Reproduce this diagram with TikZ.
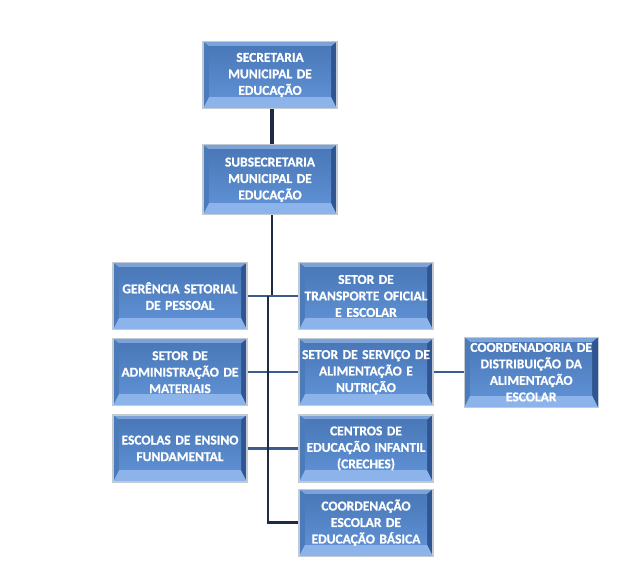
\documentclass[tikz,border=0pt]{standalone}
\usepackage{fontspec}
\setmainfont{Carlito}[BoldFeatures={FakeBold=0.8}]
\usetikzlibrary{positioning}

\definecolor{facetop}{HTML}{4A78B8}
\definecolor{facebot}{HTML}{5D8FD2}
\definecolor{bevtop}{HTML}{7BA3DA}
\definecolor{bevbot}{HTML}{8CB4EA}
\definecolor{bevleft}{HTML}{4C7BBA}
\definecolor{bevright}{HTML}{2F5690}
\definecolor{framegrey}{HTML}{C3CAD4}
\definecolor{navy}{HTML}{1E2B45}
\definecolor{linkblue}{HTML}{3B5C8C}

\begin{document}
\begin{tikzpicture}[
  x=1pt,y=1pt,
  unit/.style={rectangle,draw=framegrey,line width=1.2pt,fill=facetop,
    minimum width=134pt,minimum height=67pt,text width=130pt,inner sep=2pt,
    align=center,text=white,font=\bfseries\fontsize{13.5}{16.5}\selectfont,
    path picture={
      \fill[bevtop] (path picture bounding box.north west) -- (path picture bounding box.north east)
        -- ([xshift=-6pt,yshift=-5pt]path picture bounding box.north east)
        -- ([xshift=6pt,yshift=-5pt]path picture bounding box.north west) -- cycle;
      \fill[bevbot] (path picture bounding box.south west) -- (path picture bounding box.south east)
        -- ([xshift=-6pt,yshift=12pt]path picture bounding box.south east)
        -- ([xshift=6pt,yshift=12pt]path picture bounding box.south west) -- cycle;
      \fill[bevleft] (path picture bounding box.north west) -- (path picture bounding box.south west)
        -- ([xshift=6pt,yshift=12pt]path picture bounding box.south west)
        -- ([xshift=6pt,yshift=-5pt]path picture bounding box.north west) -- cycle;
      \fill[bevright] (path picture bounding box.north east) -- (path picture bounding box.south east)
        -- ([xshift=-6pt,yshift=12pt]path picture bounding box.south east)
        -- ([xshift=-6pt,yshift=-5pt]path picture bounding box.north east) -- cycle;
      \shade[top color=facetop,bottom color=facebot]
        ([xshift=6pt,yshift=-5pt]path picture bounding box.north west)
        rectangle ([xshift=-6pt,yshift=12pt]path picture bounding box.south east);}},
  head/.style={navy,line width=4.5pt},
  trunk/.style={navy,line width=2.4pt},
  link/.style={linkblue,line width=2.4pt}]
    \useasboundingbox (0,0) rectangle (628,579);
    % Secretaria and subsecretaria
    \node[unit] (sec) at (270,504) {SECRETARIA\\MUNICIPAL DE\\EDUCAÇÃO};
    \node[unit,minimum height=70pt,below=35pt of sec] (sub) {SUBSECRETARIA\\MUNICIPAL DE\\EDUCAÇÃO};
    % Sectors, left column
    \node[unit] (ger) at (180,283) {GERÊNCIA SETORIAL\\DE PESSOAL};
    \node[unit,below=8pt of ger] (adm) {SETOR DE\\ADMINISTRAÇÃO DE\\MATERIAIS};
    \node[unit,below=8pt of adm] (esc) {ESCOLAS DE ENSINO\\FUNDAMENTAL};
    % Sectors, right column
    \node[unit] (tra) at (366,283) {SETOR DE\\TRANSPORTE OFICIAL\\E ESCOLAR};
    \node[unit,below=8pt of tra] (ser) {SETOR DE SERVIÇO DE\\ALIMENTAÇÃO E\\NUTRIÇÃO};
    \node[unit,below=8pt of ser] (cen) {CENTROS DE\\EDUCAÇÃO INFANTIL\\(CRECHES)};
    \node[unit,below=6pt of cen] (coe) {COORDENAÇÃO\\ESCOLAR DE\\EDUCAÇÃO BÁSICA};
    \node[unit,minimum height=70pt,right=30pt of ser] (cdd) {COORDENADORIA DE\\DISTRIBUIÇÃO DA\\ALIMENTAÇÃO\\ESCOLAR};
    % Connectors
    \coordinate (spine) at (268,283);
    \draw[head] ([xshift=2pt]sec.south) -- ([xshift=2pt]sub.north);
    \draw[trunk] ([xshift=2pt]sub.south) -- ([xshift=2pt]sub.south |- ger.east);
    \draw[link] (ger.east) -- (tra.west);
    \draw[link] (adm.east) -- (adm.east -| ser.west);
    \draw[link] (esc.east) -- (esc.east -| cen.west);
    \draw[link] (ser.east) -- (ser.east -| cdd.west);
    \draw[trunk] (spine) -- (spine |- coe.west) -- (coe.west);
\end{tikzpicture}
\end{document}
